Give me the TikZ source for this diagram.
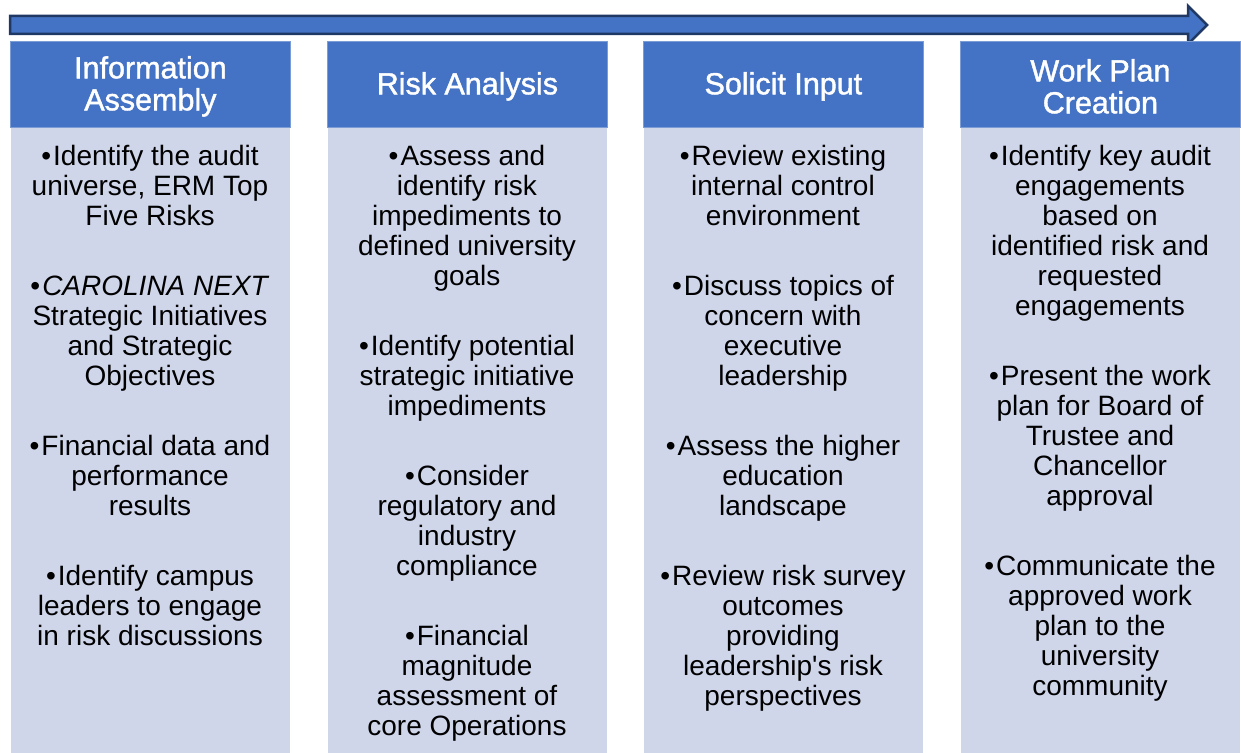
\documentclass[tikz,border=0pt]{standalone}
\usepackage{fontspec}
\setmainfont{Liberation Sans}
\newfontfamily\hdrfont{Liberation Sans}[FakeBold=1.4]
\newfontfamily\plainsans{Liberation Sans}[Ligatures=TeXOff]
\definecolor{hdrblue}{HTML}{4472C4}
\definecolor{bodyblue}{HTML}{CFD6EA}
\definecolor{navy}{HTML}{1F3864}
\newcommand{\blt}{•\kern2pt}
\newcommand{\apos}{{\plainsans'}}
\begin{document}
\begin{tikzpicture}[x=1pt,y=-1pt,
  header/.style={fill=hdrblue, draw=hdrblue!70!white, line width=0.8pt,
    minimum width=280pt, minimum height=86pt, inner sep=0pt, anchor=north west},
  htext/.style={text=white, align=center, inner sep=0pt,
    font=\hdrfont\fontsize{30.5}{32}\selectfont},
  panel/.style={fill=bodyblue, draw=white, line width=0.8pt,
    minimum width=280pt, minimum height=640pt, inner sep=0pt, anchor=north west},
  items/.style={anchor=north, inner sep=0pt, align=center,
    font=\fontsize{28}{30}\selectfont}]
\useasboundingbox (0,0) rectangle (1241,752);

% timeline arrow
\draw[fill=hdrblue, draw=navy, line width=2.5pt, line join=miter]
  (10,16) -- (1188,16) -- (1188,6) -- (1207,25) -- (1188,44) -- (1188,34) -- (10,34) -- cycle;

% column panels
\node[panel] (b1) at (10,127) {};
\node[panel] (b2) at (327,127) {};
\node[panel] (b3) at (643,127) {};
\node[panel] (b4) at (960,127) {};

\node[header] (h1) at (10,41) {};
\node[header] (h2) at (327,41) {};
\node[header] (h3) at (643,41) {};
\node[header] (h4) at (960,41) {};

\node[htext] (l1) at ([yshift=-2pt]h1.center) {Information\\Assembly};
\node[htext] (l2) at ([yshift=-2pt]h2.center) {Risk Analysis};
\node[htext] (l3) at ([yshift=-2pt]h3.center) {Solicit Input};
\node[htext] (l4) at ([yshift=-2pt]h4.center) {Work Plan\\Creation};

% bullet lists
\node[items] (t1) at (150,145.5) {%
  \blt Identify the audit\\universe, ERM Top\\Five Risks\\[40pt]
  \blt\textit{CAROLINA NEXT}\\Strategic Initiatives\\and Strategic\\Objectives\\[40pt]
  \blt Financial data and\\performance\\results\\[40pt]
  \blt Identify campus\\leaders to engage\\in risk discussions};

\node[items] (t2) at (467,145.5) {%
  \blt Assess and\\identify risk\\impediments to\\defined university\\goals\\[40pt]
  \blt Identify potential\\strategic initiative\\impediments\\[40pt]
  \blt Consider\\regulatory and\\industry\\compliance\\[40pt]
  \blt Financial\\magnitude\\assessment of\\core Operations};

\node[items] (t3) at (783,145.5) {%
  \blt Review existing\\internal control\\environment\\[40pt]
  \blt Discuss topics of\\concern with\\executive\\leadership\\[40pt]
  \blt Assess the higher\\education\\landscape\\[40pt]
  \blt Review risk survey\\outcomes\\providing\\leadership\apos s risk\\perspectives};

\node[items] (t4) at (1100,145.5) {%
  \blt Identify key audit\\engagements\\based on\\identified risk and\\requested\\engagements\\[40pt]
  \blt Present the work\\plan for Board of\\Trustee and\\Chancellor\\approval\\[40pt]
  \blt Communicate the\\approved work\\plan to the\\university\\community};
\end{tikzpicture}
\end{document}
